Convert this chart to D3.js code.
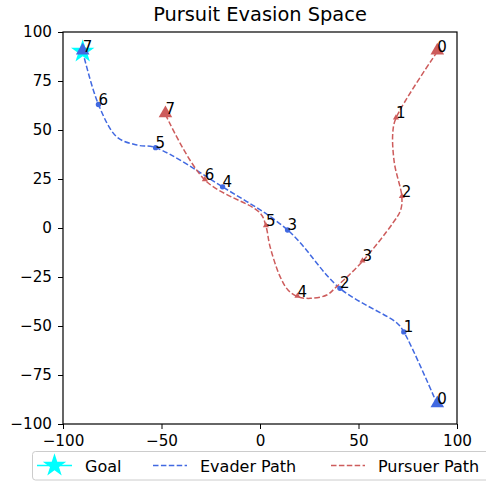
<!DOCTYPE html>
<html>
<head>
<meta charset="utf-8">
<script src="https://cdn.jsdelivr.net/npm/d3@7"></script>
<style>
  body { margin: 0; background: #fff; }
  svg { font-family: "DejaVu Sans", sans-serif; }
</style>
</head>
<body>
<div id="chart"></div>
<script>
// evader / pursuer positions per step (index = step number)
var evaderX = [90, 73, 40.6, 14, -19, -53, -82, -90];
var evaderY = [-90, -53, -30.8, -1, 21, 41, 63, 90];
var pursuerX = [90, 69, 72, 52, 19, 3, -28, -48];
var pursuerY = [90, 56, 16, -17, -35, 1, 24.5, 58];
var goal = [-90, 90];

// traced trajectories (step points plus bends)
var evaderPathX = [90, 73, 69.5, 40.6, 14, -19, -53, -62.4, -72.6, -82, -90];
var evaderPathY = [-90, -53, -48.5, -30.8, -1, 21, 41, 42.3, 46.4, 63, 90];
var pursuerPathX = [90, 69, 67.4, 68.2, 72, 71.4, 67.5, 52, 38.9, 33.9, 25.4, 19, 14.2, 10.2, 5.1, 3, 0, -28, -48];
var pursuerPathY = [90, 56, 48.5, 33.2, 16, 9.2, 2.6, -17, -29.9, -34.2, -35.9, -35, -31.6, -24.8, -9.5, 1, 7.7, 24.5, 58];

var xTicks = [-100, -50, 0, 50, 100];
var yTicks = [-100, -75, -50, -25, 0, 25, 50, 75, 100];

var W = 486, H = 482;
var m = { left: 63, right: 457, top: 32, bottom: 424 };
var evColor = "#4169e1", puColor = "#cd5c5c";
var dash = "5.5,2.4";

var svg = d3.select("#chart").append("svg").attr("width", W).attr("height", H);

var x = d3.scaleLinear().domain([-100, 100]).range([m.left, m.right]);
var y = d3.scaleLinear().domain([-100, 100]).range([m.bottom, m.top]);

// title
svg.append("text")
  .attr("x", (m.left + m.right) / 2).attr("y", 21)
  .attr("text-anchor", "middle")
  .style("font-size", "19.4px")
  .text("Pursuit Evasion Space");

function zip(a, b) { return a.map(function (v, i) { return [v, b[i]]; }); }
var evader = zip(evaderX, evaderY);
var pursuer = zip(pursuerX, pursuerY);

var line = d3.line()
  .x(function (d) { return x(d[0]); })
  .y(function (d) { return y(d[1]); })
  .curve(d3.curveCatmullRom.alpha(0.5));

var plot = svg.append("g");

plot.append("path").datum(zip(evaderPathX, evaderPathY)).attr("d", line)
  .attr("fill", "none").attr("stroke", evColor)
  .attr("stroke-width", 1.5).attr("stroke-dasharray", dash);
plot.append("path").datum(zip(pursuerPathX, pursuerPathY)).attr("d", line)
  .attr("fill", "none").attr("stroke", puColor)
  .attr("stroke-width", 1.5).attr("stroke-dasharray", dash);

var tri = d3.symbol().type(d3.symbolTriangle);

// goal star (under the final evader marker)
var star = d3.symbol().type(d3.symbolStar).size(170);
plot.append("path").attr("d", star())
  .attr("transform", "translate(" + x(goal[0]) + "," + y(goal[1]) + ")")
  .attr("fill", "cyan");

// evader markers
evader.forEach(function (d, i) {
  if (i == 0 || i == evader.length - 1) {
    plot.append("path").attr("d", tri.size(80)())
      .attr("transform", "translate(" + x(d[0]) + "," + (y(d[1]) - 1) + ")")
      .attr("fill", evColor);
  } else {
    plot.append("circle").attr("cx", x(d[0])).attr("cy", y(d[1]))
      .attr("r", 2.7).attr("fill", evColor);
  }
});

// pursuer markers
pursuer.forEach(function (d, i) {
  var big = (i == 0 || i == pursuer.length - 1);
  plot.append("path").attr("d", tri.size(big ? 80 : 16)())
    .attr("transform", "translate(" + x(d[0]) + "," + (y(d[1]) - (big ? 1 : 0.5)) + ")")
    .attr("fill", puColor);
});

// step labels
[evader, pursuer].forEach(function (pts) {
  plot.selectAll(null).data(pts).enter().append("text")
    .attr("x", function (d) { return x(d[0]); })
    .attr("y", function (d) { return y(d[1]); })
    .style("font-size", "15px")
    .text(function (d, i) { return i; });
});

// frame
svg.append("rect")
  .attr("x", m.left).attr("y", m.top)
  .attr("width", m.right - m.left).attr("height", m.bottom - m.top)
  .attr("fill", "none").attr("stroke", "#000").attr("stroke-width", 1.2);

function fmt(d) { return d < 0 ? "\u2212" + Math.abs(d) : d; }
var xAxis = svg.append("g").attr("transform", "translate(0," + m.bottom + ")")
  .call(d3.axisBottom(x).tickValues(xTicks).tickSize(5).tickPadding(6).tickFormat(fmt));
var yAxis = svg.append("g").attr("transform", "translate(" + m.left + ",0)")
  .call(d3.axisLeft(y).tickValues(yTicks).tickSize(5).tickPadding(6).tickFormat(fmt));
[xAxis, yAxis].forEach(function (a) {
  a.select(".domain").remove();
  a.selectAll("text").style("font-size", "15.2px").style("font-family", "DejaVu Sans").attr("fill", "#000");
  a.selectAll("line").attr("stroke", "#000");
});

// legend
var lg = svg.append("g");
lg.append("rect").attr("x", 32.5).attr("y", 451.5).attr("width", 470).attr("height", 28.5)
  .attr("rx", 3).attr("fill", "#fff").attr("fill-opacity", 0.8)
  .attr("stroke", "#ccc");
var ly = 465.5;
lg.append("line").attr("x1", 37).attr("x2", 72).attr("y1", ly).attr("y2", ly)
  .attr("stroke", "cyan").attr("stroke-width", 1.5);
lg.append("path").attr("d", star()).attr("transform", "translate(54.5," + ly + ")").attr("fill", "cyan");
lg.append("text").attr("x", 85).attr("y", ly + 6).style("font-size", "16px").text("Goal");
lg.append("line").attr("x1", 153).attr("x2", 187).attr("y1", ly).attr("y2", ly)
  .attr("stroke", evColor).attr("stroke-width", 1.5).attr("stroke-dasharray", dash);
lg.append("text").attr("x", 200).attr("y", ly + 6).style("font-size", "16px").text("Evader Path");
lg.append("line").attr("x1", 331).attr("x2", 365).attr("y1", ly).attr("y2", ly)
  .attr("stroke", puColor).attr("stroke-width", 1.5).attr("stroke-dasharray", dash);
lg.append("text").attr("x", 378).attr("y", ly + 6).style("font-size", "16px").text("Pursuer Path");
</script>
</body>
</html>
